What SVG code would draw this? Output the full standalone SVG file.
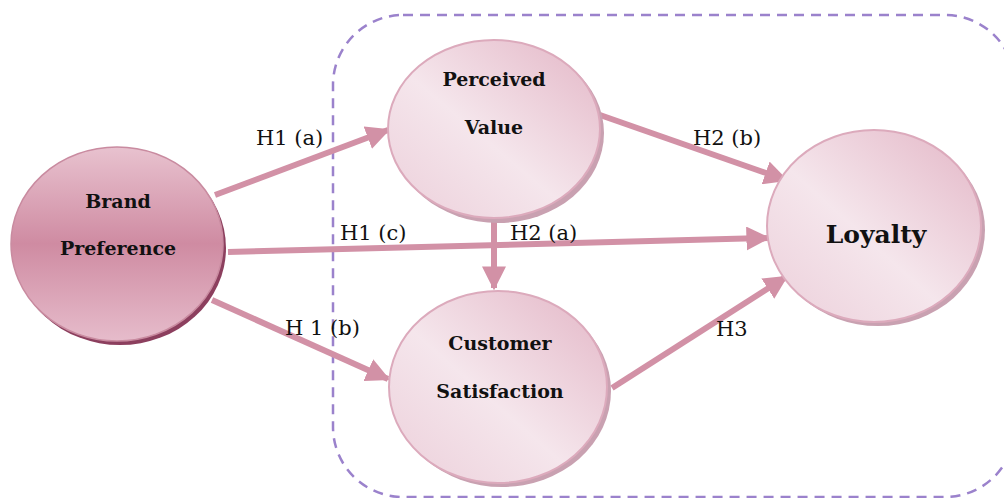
<svg xmlns="http://www.w3.org/2000/svg" width="1004" height="498" viewBox="0 0 1004 498">
<defs>
<linearGradient id="gBrand" x1="0" y1="0" x2="0" y2="1">
<stop offset="0" stop-color="#e8c2cf"/>
<stop offset="0.5" stop-color="#cf8ba2"/>
<stop offset="1" stop-color="#e6bccb"/>
</linearGradient>
<linearGradient id="gLight" x1="1" y1="0" x2="0" y2="1">
<stop offset="0" stop-color="#e3b6c6"/>
<stop offset="0.55" stop-color="#f5e6ec"/>
<stop offset="1" stop-color="#eccfda"/>
</linearGradient>
<marker id="ah" viewBox="0 0 10 10" refX="9" refY="5" markerWidth="4" markerHeight="4" orient="auto" markerUnits="strokeWidth">
<path d="M0,0 L10,5 L0,10 z" fill="#d291a6"/>
</marker>
<style>
.conn{stroke:#d291a6;stroke-width:6;fill:none}
.lbl{font-family:"DejaVu Serif","Liberation Serif",serif;font-size:21px;fill:#111}
.nt{font-family:"DejaVu Serif","Liberation Serif",serif;font-weight:bold;font-size:19px;fill:#111;text-anchor:middle}
.light{fill:url(#gLight);stroke:#dcaabc;stroke-width:2}
.shadowL{fill:#c9a1b1}
</style>
</defs>
<rect x="333" y="15" width="682" height="482" rx="70" ry="70" fill="none" stroke="#9b82cc" stroke-width="2.5" stroke-dasharray="10,7"/>
<g id="connectors">
<line class="conn" x1="215" y1="195" x2="388" y2="130" marker-end="url(#ah)"/>
<line class="conn" x1="228" y1="252" x2="768" y2="238" marker-end="url(#ah)"/>
<line class="conn" x1="212" y1="300" x2="388" y2="379" marker-end="url(#ah)"/>
<line class="conn" x1="600" y1="115" x2="786" y2="180" marker-end="url(#ah)"/>
<line class="conn" x1="494" y1="218" x2="494" y2="288" marker-end="url(#ah)"/>
<line class="conn" x1="612" y1="388" x2="786" y2="277" marker-end="url(#ah)"/>
<text class="lbl" x="256" y="145">H1 (a)</text>
<text class="lbl" x="340" y="240">H1 (c)</text>
<text class="lbl" x="510" y="240">H2 (a)</text>
<text class="lbl" x="285" y="335">H 1 (b)</text>
<text class="lbl" x="693" y="145">H2 (b)</text>
<text class="lbl" x="716" y="336">H3</text>
</g>
<g id="brand">
<ellipse cx="120" cy="248" rx="106" ry="97" fill="#8c3f5e"/>
<ellipse cx="117" cy="244" rx="106" ry="97" fill="url(#gBrand)" stroke="#c98ba0" stroke-width="1.5"/>
<text class="nt" x="118" y="208">Brand</text>
<text class="nt" x="118" y="255">Preference</text>
</g>
<g id="perceived">
<ellipse class="shadowL" cx="498" cy="133" rx="106" ry="90"/>
<ellipse class="light" cx="494" cy="129" rx="106" ry="89"/>
<text class="nt" x="494" y="86">Perceived</text>
<text class="nt" x="494" y="134">Value</text>
</g>
<g id="satisfaction">
<ellipse class="shadowL" cx="502" cy="391" rx="109" ry="96"/>
<ellipse class="light" cx="498" cy="387" rx="109" ry="96"/>
<text class="nt" x="500" y="350">Customer</text>
<text class="nt" x="500" y="398">Satisfaction</text>
</g>
<g id="loyalty">
<ellipse class="shadowL" cx="878" cy="230" rx="107" ry="96"/>
<ellipse class="light" cx="874" cy="226" rx="107" ry="96"/>
<text class="nt" x="876" y="243" style="font-size:25px">Loyalty</text>
</g>
</svg>
